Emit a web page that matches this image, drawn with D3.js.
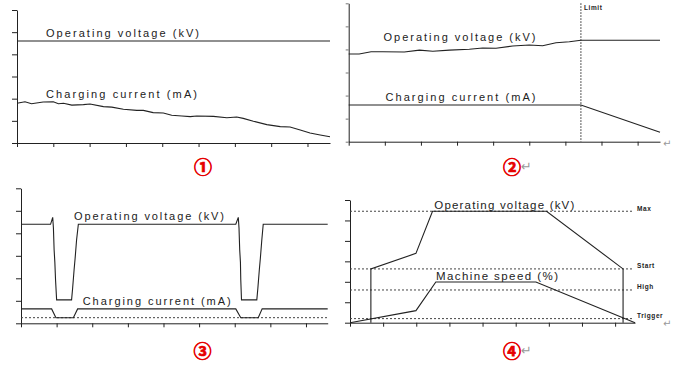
<!DOCTYPE html>
<html><head><meta charset="utf-8">
<script src="https://cdn.jsdelivr.net/npm/d3@7"></script>
<style>
html,body{margin:0;padding:0;background:#fff;}
svg{display:block;}
</style></head>
<body>
<svg id="c" width="673" height="369"></svg>
<script>
// ---------- data (x in tick units, y in tick units) ----------
const xTicks = [0,1,2,3,4,5,6,7,8];
const yTicks = [0,1,2,3,4,5,6];

// Panel 1
const p1Voltage = [[0,4.6],[8.62,4.6]];
const p1Current = [[0,1.79],[0.22,1.86],[0.40,1.77],[0.72,1.85],[1.0,1.86],[1.14,1.77],[1.28,1.79],[1.51,1.71],[1.83,1.73],[2.01,1.76],[2.38,1.64],[2.61,1.62],[2.93,1.52],[3.30,1.47],[3.48,1.47],[3.75,1.37],[4.03,1.35],[4.26,1.25],[4.54,1.22],[4.77,1.19],[4.95,1.22],[5.41,1.20],[5.78,1.14],[6.05,1.17],[6.23,1.11],[6.51,0.98],[6.88,0.83],[7.25,0.74],[7.52,0.72],[7.80,0.59],[8.07,0.45],[8.35,0.36],[8.62,0.28]];

// Panel 2
const p2Limit = 6.43;
const p2Voltage = [[0,3.80],[0.29,3.80],[0.62,3.90],[0.94,3.90],[1.54,3.89],[1.96,3.97],[2.33,3.92],[2.79,3.97],[3.34,4.01],[3.71,4.06],[4.08,4.05],[4.54,4.15],[5.0,4.19],[5.37,4.16],[5.74,4.29],[6.11,4.33],[6.43,4.40],[8.62,4.40]];
const p2Current = [[0,1.59],[6.43,1.59],[8.62,0.41]];

// Panel 3
const p3Voltage = [[0,4.4],[0.83,4.4],[0.89,4.71],[0.91,4.24],[0.93,3.26],[0.95,2.72],[0.97,1.92],[1.0,1.04],[1.42,1.04],[1.45,1.57],[1.49,2.37],[1.52,2.9],[1.56,3.7],[1.61,4.4],
  [6.03,4.4],[6.10,4.71],[6.12,4.24],[6.14,3.26],[6.16,2.72],[6.17,1.92],[6.19,1.04],[6.62,1.04],[6.65,1.57],[6.69,2.37],[6.72,2.9],[6.76,3.7],[6.80,4.4],[8.61,4.4]];
const p3Current = [[0,0.64],[0.86,0.64],[0.98,0.25],[1.47,0.25],[1.59,0.64],[6.03,0.64],[6.17,0.25],[6.66,0.25],[6.77,0.64],[8.61,0.64]];
const p3Baseline = 0.25;

// Panel 4
const p4Levels = [["Max",5.45],["Start",2.63],["High",1.6],["Trigger",0.2]];
const p4Voltage = [[0.63,0],[0.63,2.63],[1.99,3.39],[2.49,5.45],[5.93,5.45],[8.24,2.63],[8.24,0]];
const p4Speed = [[0,0],[1.99,0.59],[2.59,1.99],[5.61,1.99],[8.6,0]];

// ---------- layout ----------
const svg = d3.select('#c');
const LINE = '#222';
const TXT = '#222';

function panel(c){
  const g = svg.append('g');
  const x = d3.scaleLinear([0,c.xMax],[c.x0,c.x1]);
  const y = d3.scaleLinear([0,6],[c.y1,c.y0]);
  g.append('g').attr('transform',`translate(0,${c.y1})`).attr('color','#222')
    .call(d3.axisBottom(x).tickValues(xTicks).tickSize(4).tickSizeOuter(0).tickFormat(''));
  g.append('g').attr('transform',`translate(${c.x0},0)`).attr('color',c.ycol||'#222')
    .call(d3.axisLeft(y).tickValues(yTicks).tickSize(c.yts||5).tickSizeOuter(0).tickFormat(''));
  g.selectAll('.domain').attr('stroke','#222');
  const line = d3.line().x(d=>x(d[0])).y(d=>y(d[1]));
  return {g,x,y,line};
}
function path(P,data,dash){
  P.g.append('path').attr('d',P.line(data)).attr('fill','none').attr('stroke',LINE)
    .attr('stroke-width',1.1).attr('stroke-dasharray',dash||null);
}
function label(P,t,x,y,len,size){
  P.g.append('text').attr('x',x).attr('y',y).text(t)
    .attr('font-family','Liberation Sans, Arial, sans-serif').attr('font-size',size||11)
    .attr('fill',TXT).attr('textLength',len).attr('lengthAdjust','spacing');
}
function small(P,t,x,y){
  P.g.append('text').attr('x',x).attr('y',y).text(t)
    .attr('font-family','Liberation Sans, Arial, sans-serif').attr('font-size',6.5).attr('font-weight','bold')
    .attr('letter-spacing',0.6).attr('fill','#222');
}
function circled(t,cx,cy,arrow){
  svg.append('text').attr('x',cx).attr('y',cy).text(t).attr('text-anchor','middle')
    .attr('dominant-baseline','central').attr('font-family','Noto Sans CJK SC, DejaVu Sans, sans-serif')
    .attr('font-size',18).attr('font-weight','bold').attr('fill','#e60000')
    .attr('stroke','#e60000').attr('stroke-width',0.7);
  if(arrow){
    svg.append('text').attr('x',cx+9).attr('y',cy+5).text('↵')
      .attr('font-family','DejaVu Sans, sans-serif').attr('font-size',13).attr('fill','#999');
  }
}
function edgeMark(y){
  svg.append('text').attr('x',663).attr('y',y).text('↵')
    .attr('font-family','DejaVu Sans, sans-serif').attr('font-size',10).attr('fill','#999');
}

// Panel 1
const P1 = panel({x0:17,x1:330,y0:10,y1:143,xMax:8.62});
path(P1,p1Voltage); path(P1,p1Current);
label(P1,'Operating voltage (kV)',46,36.5,153);
label(P1,'Charging current (mA)',46,98,151);
circled('①',203,166,false);

// Panel 2
const P2 = panel({x0:348.7,x1:660,y0:3.3,y1:141.7,xMax:8.62,ycol:'#777',yts:3});
P2.g.append('line').attr('x1',P2.x(p2Limit)).attr('x2',P2.x(p2Limit))
  .attr('y1',P2.y(6)).attr('y2',P2.y(0)).attr('stroke','#222').attr('stroke-dasharray','1.5,1.5');
small(P2,'Limit',P2.x(p2Limit)+3,9.5);
path(P2,p2Voltage); path(P2,p2Current);
label(P2,'Operating voltage (kV)',383.5,40.5,152);
label(P2,'Charging current (mA)',385.5,100.5,150);
circled('②',512,166,true);
edgeMark(147);

// Panel 3
const P3 = panel({x0:21,x1:327.7,y0:188.3,y1:323.3,xMax:8.61});
P3.g.append('line').attr('x1',P3.x(0)).attr('x2',P3.x(8.61)).attr('y1',P3.y(p3Baseline)).attr('y2',P3.y(p3Baseline))
  .attr('stroke','#444').attr('stroke-dasharray','2,2');
path(P3,p3Voltage); path(P3,p3Current);
label(P3,'Operating voltage (kV)',74,219.5,150);
label(P3,'Charging current (mA)',82.7,304.5,148);
circled('③',202.5,350,false);

// Panel 4
const P4 = panel({x0:350,x1:635,y0:200,y1:322.7,xMax:8.6});
p4Levels.forEach(([n,v])=>{
  P4.g.append('line').attr('x1',P4.x(0)).attr('x2',634).attr('y1',P4.y(v)).attr('y2',P4.y(v))
    .attr('stroke','#444').attr('stroke-dasharray','2,2');
});
p4Levels.forEach(([n,v])=>small(P4,n,637,P4.y(v)-0.5));
path(P4,p4Voltage); path(P4,p4Speed);
label(P4,'Operating voltage (kV)',434.3,209,140,11.5);
label(P4,'Machine speed (%)',436,279.5,122,11.5);
circled('④',512,350,true);
edgeMark(327);
</script>
</body></html>
